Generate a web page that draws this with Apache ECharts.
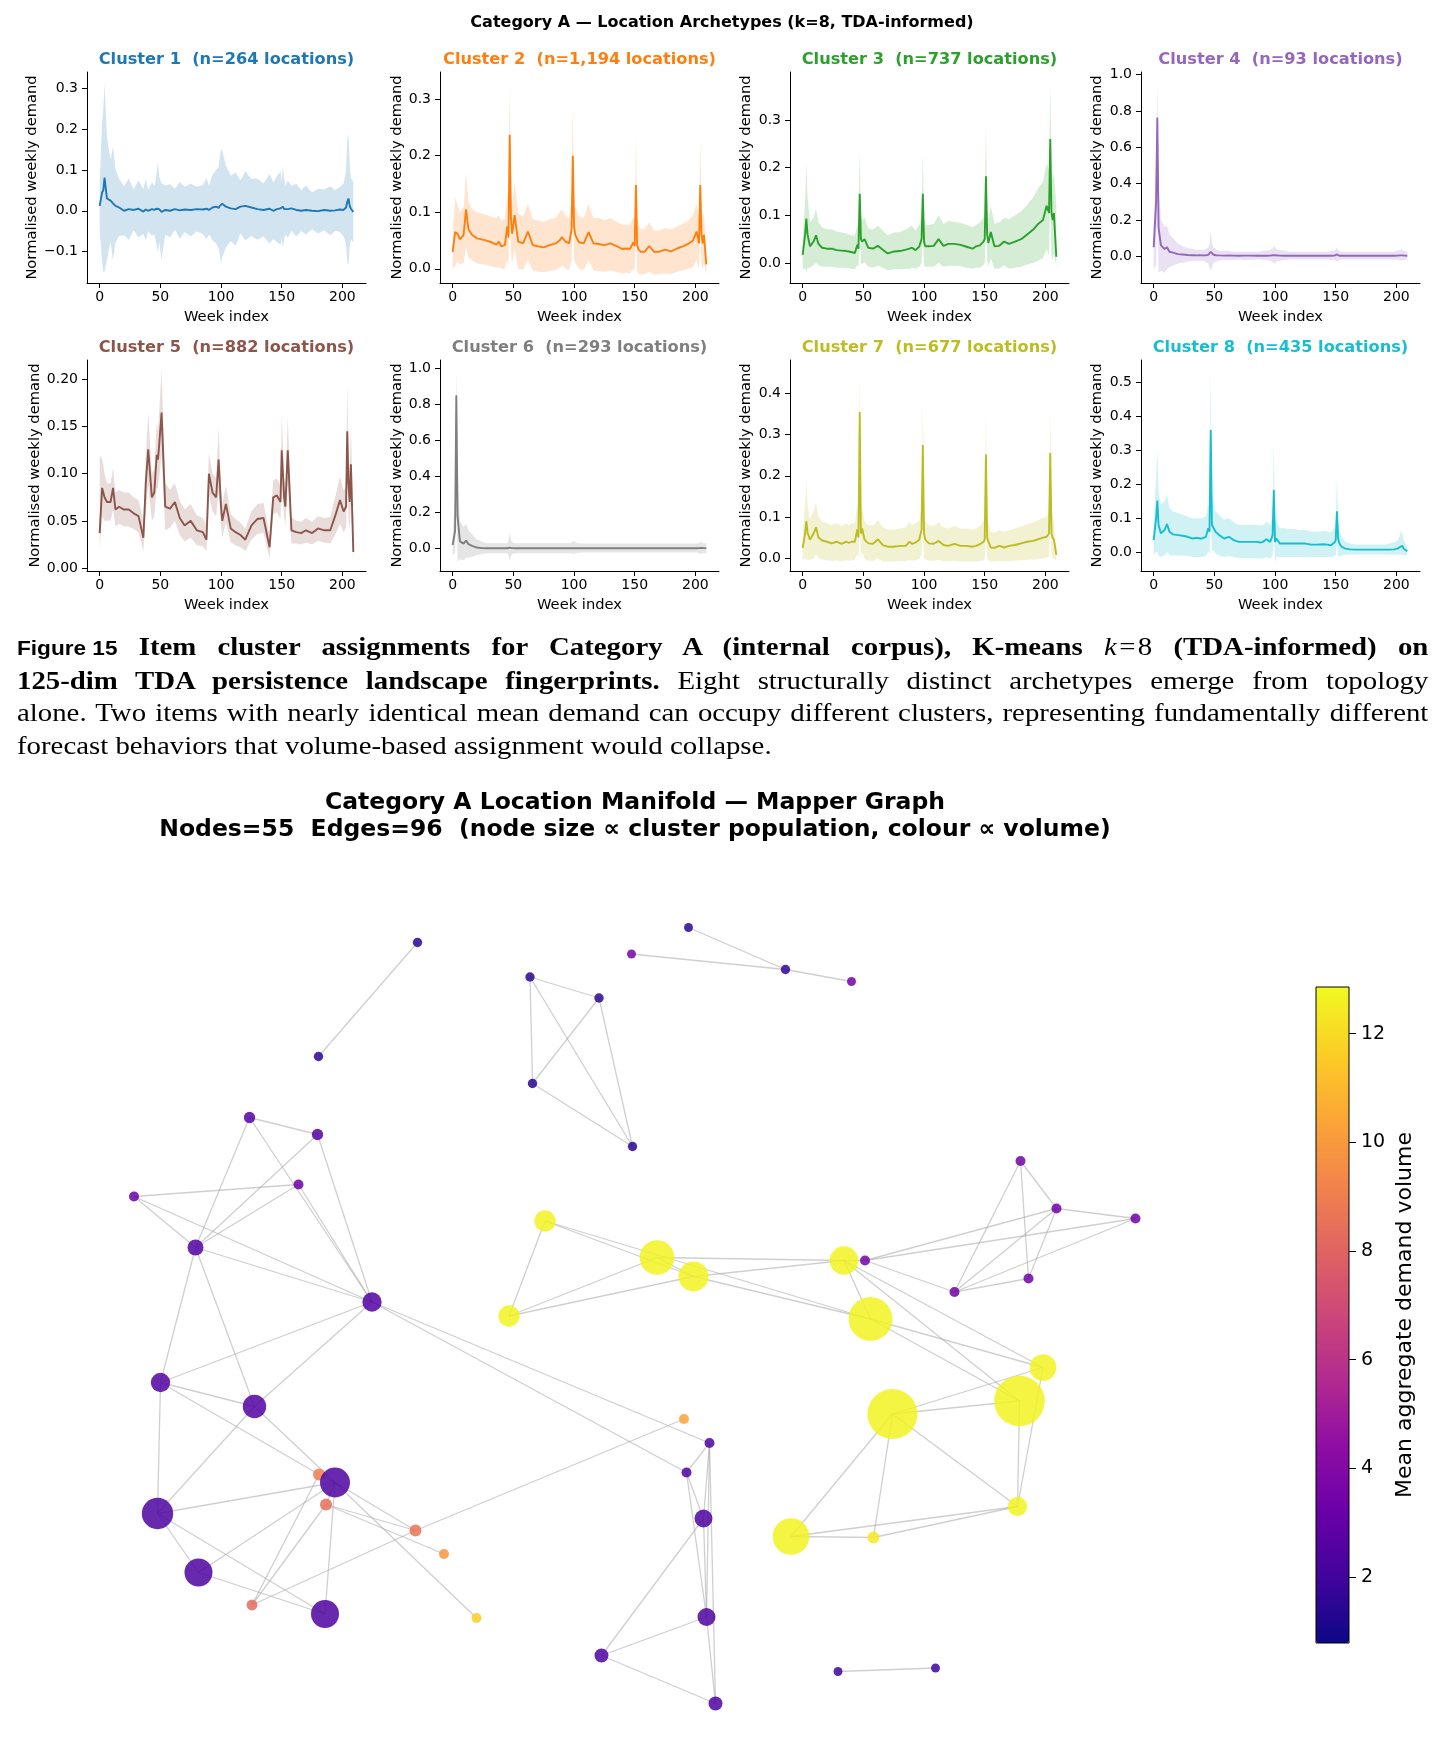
<!DOCTYPE html>
<html>
<head>
<meta charset="utf-8">
<script src="https://cdn.jsdelivr.net/npm/echarts@6/dist/echarts.min.js"></script>
<style>
  html, body { margin: 0; padding: 0; background: #fff; }
  #chart { position: absolute; left: 0; top: 0; width: 1444px; height: 1743px; }
  .caption { position: absolute; left: 17px; top: 631px; width: 1249px; transform: scaleX(1.13); transform-origin: 0 0;
    font-family: 'Liberation Serif', serif; font-size: 25.5px; line-height: 32.7px; color: #000; }
  .caption div { text-align: justify; text-align-last: justify; }
  .caption div.tight { word-spacing: -1px; }
  .caption div.last { text-align-last: left; }
  .caption .fig { display: inline-block; white-space: nowrap; font-family: 'Liberation Sans', sans-serif; font-weight: bold; font-size: 20px; }
</style>
</head>
<body>
<div id="chart"></div>
<div class="caption">
  <div><span class="fig">Figure 15</span> <b>Item cluster assignments for Category A (internal corpus), K-means</b> <i>k</i>&#8202;=&#8202;8 <b>(TDA-informed) on</b></div>
  <div><b>125-dim TDA persistence landscape fingerprints.</b> Eight structurally distinct archetypes emerge from topology</div>
  <div class="tight">alone. Two items with nearly identical mean demand can occupy different clusters, representing fundamentally different</div>
  <div class="last">forecast behaviors that volume-based assignment would collapse.</div>
</div>
<script>
// ---- weekly profiles (weeks sampled where the shape changes) ----
const WEEKS = [0,2,3,4,6,9,11,13,16,20, 24,28,32,36,38,40,43,45,46,47, 48,49,51,54,58,62,66,70,75,80,
  85,88,90,93,96,98,99,100,101,104, 108,112,116,120,125,130,135,140,143,146, 149,150,151,152,153,155,158,162,166,170,
  175,180,185,190,194,198,201,203,204,205, 206,207,209];

const C1_MEAN = [.012,.045,.05,.081,.03,.025,.018,.012,.008,0, .004,.002,.005,-.002,.003,0,.004,.002,0,.005,
  .008,.004,-.003,.002,0,.004,.001,.003,.002,.004, .003,.005,.002,.008,.01,.007,.012,.01,.017,.01,
  .006,.004,.01,.012,.008,.004,.002,.005,0,.004, .006,.003,.01,.004,.002,.004,.006,.002,0,.002,
  0,-.001,.002,0,.001,.003,.002,.008,.022,.03, .012,.005,-.003];
const C1_LOW = [-.048,-.125,-.15,-.149,-.12,-.075,-.122,-.078,-.062,-.06, -.071,-.048,-.065,-.057,-.072,-.05,-.061,-.058,-.07,-.085,
  -.102,-.076,-.12,-.058,-.065,-.046,-.069,-.052,-.063,-.051, -.057,-.07,-.058,-.072,-.08,-.093,-.108,-.13,-.113,-.09,
  -.074,-.086,-.055,-.073,-.062,-.071,-.063,-.08,-.07,-.076, -.084,-.067,-.09,-.071,-.058,-.066,-.049,-.063,-.05,-.058,
  -.045,-.056,-.048,-.06,-.049,-.052,-.063,-.082,-.128,-.13, -.088,-.07,-.078];
const C1_HIGH = [.072,.215,.25,.311,.18,.125,.158,.102,.078,.06, .079,.052,.075,.053,.078,.05,.069,.062,.07,.095,
  .118,.084,.067,.062,.065,.054,.071,.058,.067,.059, .063,.08,.062,.088,.1,.107,.132,.15,.147,.11,
  .086,.094,.075,.097,.078,.079,.067,.09,.07,.084, .096,.073,.11,.079,.062,.074,.061,.067,.05,.062,
  .045,.054,.052,.06,.051,.058,.067,.098,.172,.19, .112,.08,.072];

const C2_MEAN = [.03,.065,.064,.062,.052,.06,.105,.07,.06,.054, .052,.05,.047,.043,.048,.04,.042,.075,.055,.237,
  .09,.062,.095,.048,.045,.066,.042,.04,.038,.042, .045,.05,.056,.048,.045,.07,.2,.075,.06,.047,
  .045,.065,.045,.044,.042,.045,.04,.035,.036,.035, .047,.04,.148,.042,.035,.03,.03,.04,.03,.03,
  .034,.031,.036,.04,.044,.05,.066,.045,.148,.062, .045,.06,.008];
const C2_LOW = [0,.005,.01,.012,.008,.01,.04,.02,.015,.01, .008,.007,.004,.002,.003,0,0,.015,.005,.14,
  .03,.01,.035,0,-.002,.015,-.003,-.005,-.006,-.004, -.002,.002,.006,0,-.002,.015,.11,.02,.01,0,
  -.002,.015,-.003,-.004,-.005,-.003,-.005,-.008,-.007,-.008, 0,-.005,.07,-.005,-.008,-.01,-.01,-.005,-.01,-.01,
  -.008,-.009,-.005,-.003,0,.003,.015,0,.07,.01, -.002,.01,-.01];
const C2_HIGH = [.06,.125,.12,.115,.1,.11,.17,.12,.105,.1, .098,.095,.092,.09,.095,.085,.088,.135,.105,.33,
  .15,.11,.155,.098,.092,.115,.088,.085,.083,.088, .09,.1,.105,.095,.09,.125,.29,.13,.11,.093,
  .09,.115,.09,.09,.086,.09,.083,.078,.078,.077, .092,.085,.23,.088,.078,.07,.07,.082,.068,.068,
  .072,.07,.075,.08,.085,.095,.115,.09,.23,.11, .09,.1,.03];

const C3_MEAN = [.017,.06,.093,.06,.035,.045,.058,.04,.032,.03, .03,.027,.026,.025,.024,.023,.021,.038,.03,.145,
  .05,.045,.05,.032,.03,.036,.028,.02,.024,.025, .028,.03,.032,.027,.034,.05,.145,.045,.035,.035,
  .036,.05,.036,.04,.04,.038,.034,.03,.035,.037, .045,.05,.182,.06,.042,.065,.035,.036,.045,.04,
  .045,.05,.06,.07,.082,.09,.12,.105,.26,.105, .09,.105,.013];
const C3_LOW = [-.015,-.01,-.02,-.01,-.01,-.005,0,-.005,-.008,-.008, -.008,-.01,-.01,-.011,-.011,-.012,-.013,-.005,-.01,.07,
  0,-.002,.002,-.008,-.01,-.006,-.01,-.015,-.013,-.013, -.012,-.012,-.01,-.012,-.008,0,.06,-.005,-.008,-.008,
  -.008,0,-.008,-.006,-.006,-.007,-.01,-.012,-.01,-.01, -.005,0,.08,.005,-.008,.01,-.012,-.012,-.005,-.012,
  -.01,-.008,-.003,0,.005,.01,.03,.015,.14,.015, .005,.02,-.01];
const C3_HIGH = [.05,.13,.21,.14,.085,.095,.115,.085,.075,.07, .07,.066,.064,.062,.06,.058,.058,.08,.07,.24,
  .1,.09,.095,.072,.07,.078,.068,.058,.064,.065, .07,.075,.078,.068,.08,.1,.23,.095,.08,.08,
  .082,.1,.082,.088,.086,.084,.08,.075,.08,.085, .095,.1,.29,.115,.092,.12,.083,.085,.095,.092,
  .1,.108,.122,.138,.157,.17,.21,.195,.38,.195, .175,.19,.12];

const C4_MEAN = [.05,.3,.765,.16,.06,.04,.05,.025,.02,.012, .01,.007,.006,.005,.006,.005,.006,.008,.012,.025,
  .015,.01,.006,.005,.004,.005,.004,.003,.004,.004, .003,.003,.004,.003,.004,.006,.008,.006,.003,.004,
  .003,.003,.003,.003,.003,.003,.003,.003,.003,.003, .004,.006,.01,.005,.003,.003,.003,.003,.003,.003,
  .003,.003,.003,.003,.003,.003,.004,.005,.006,.005, .004,.004,.003];
const C4_LOW = [-.07,-.05,.35,-.09,-.08,-.09,-.07,-.06,-.05,-.04, -.035,-.03,-.025,-.025,-.025,-.025,-.03,-.04,-.06,-.08,
  -.06,-.04,-.03,-.025,-.02,-.02,-.02,-.018,-.02,-.02, -.018,-.018,-.02,-.02,-.025,-.03,-.04,-.035,-.03,-.025,
  -.02,-.018,-.018,-.018,-.018,-.018,-.018,-.018,-.018,-.02, -.022,-.025,-.028,-.025,-.02,-.018,-.018,-.018,-.018,-.018,
  -.018,-.018,-.018,-.018,-.018,-.018,-.02,-.022,-.025,-.022, -.02,-.02,-.018];
const C4_HIGH = [.18,.5,.96,.4,.2,.16,.17,.12,.1,.07, .055,.045,.04,.035,.035,.035,.04,.05,.07,.14,
  .08,.05,.04,.03,.03,.03,.025,.025,.025,.025, .025,.025,.03,.03,.035,.045,.055,.05,.04,.035,
  .03,.025,.025,.025,.025,.025,.025,.025,.025,.028, .03,.035,.05,.035,.028,.025,.025,.025,.025,.025,
  .025,.025,.025,.025,.025,.025,.03,.035,.04,.035, .03,.03,.025];

const C5_MEAN = [.037,.085,.08,.075,.07,.07,.085,.062,.065,.062, .062,.058,.055,.032,.09,.126,.075,.08,.1,.12,
  .115,.13,.165,.065,.063,.07,.053,.045,.05,.04, .038,.03,.1,.08,.075,.115,.09,.065,.05,.068,
  .042,.038,.035,.03,.045,.052,.053,.022,.075,.077, .07,.125,.1,.075,.065,.125,.04,.038,.037,.04,
  .037,.042,.04,.04,.055,.072,.06,.065,.145,.09, .07,.11,.017];
const C5_LOW = [.02,.055,.052,.05,.05,.05,.062,.044,.047,.044, .044,.041,.038,.018,.06,.088,.05,.055,.07,.085,
  .085,.095,.12,.04,.043,.05,.035,.028,.032,.024, .023,.018,.078,.06,.055,.08,.065,.045,.032,.048,
  .027,.024,.022,.018,.03,.036,.037,.01,.057,.059, .052,.087,.07,.053,.045,.09,.026,.026,.025,.027,
  .025,.029,.027,.026,.035,.047,.038,.043,.095,.055, .04,.07,.007];
const C5_HIGH = [.12,.115,.11,.1,.09,.09,.106,.08,.083,.08, .08,.075,.072,.05,.12,.164,.1,.105,.13,.155,
  .145,.165,.21,.09,.083,.09,.071,.062,.068,.056, .053,.045,.122,.1,.095,.15,.115,.085,.068,.088,
  .057,.052,.048,.042,.06,.068,.069,.035,.093,.095, .088,.163,.13,.097,.085,.16,.054,.05,.049,.053,
  .049,.055,.053,.054,.075,.097,.082,.087,.195,.125, .1,.15,.05];

const C6_MEAN = [.02,.1,.85,.18,.04,.028,.045,.025,.015,.006, .003,.002,.002,.002,.002,.002,.002,.002,.003,.006,
  .004,.003,.002,.002,.002,.002,.002,.002,.002,.002, .002,.002,.002,.002,.002,.002,.003,.003,.002,.002,
  .002,.002,.002,.002,.002,.002,.002,.002,.002,.002, .002,.002,.002,.002,.002,.002,.002,.002,.002,.002,
  .002,.002,.002,.002,.002,.002,.002,.003,.005,.004, .003,.003,.003];
const C6_LOW = [-.04,-.02,.6,-.07,-.06,-.065,-.05,-.05,-.045,-.035, -.03,-.025,-.025,-.025,-.025,-.025,-.025,-.025,-.035,-.07,
  -.04,-.03,-.025,-.025,-.025,-.025,-.025,-.025,-.025,-.025, -.025,-.025,-.025,-.025,-.025,-.025,-.03,-.03,-.025,-.022,
  -.022,-.022,-.022,-.022,-.022,-.022,-.022,-.022,-.022,-.022, -.022,-.022,-.022,-.022,-.022,-.022,-.022,-.022,-.022,-.022,
  -.022,-.022,-.022,-.022,-.022,-.022,-.022,-.025,-.03,-.028, -.025,-.025,-.025];
const C6_HIGH = [.08,.3,1.0,.43,.15,.12,.14,.1,.08,.05, .04,.03,.03,.03,.03,.03,.03,.03,.045,.09,
  .05,.035,.03,.03,.03,.03,.03,.03,.03,.03, .03,.03,.03,.03,.03,.035,.04,.045,.035,.028,
  .028,.028,.028,.028,.028,.028,.028,.028,.028,.028, .028,.028,.028,.028,.028,.028,.028,.028,.028,.028,
  .028,.028,.028,.028,.028,.028,.028,.03,.04,.035, .03,.03,.03];

const C7_MEAN = [.025,.06,.09,.062,.045,.06,.075,.05,.043,.04, .036,.04,.035,.04,.037,.04,.04,.07,.05,.355,
  .06,.072,.045,.036,.035,.046,.032,.028,.028,.03, .03,.04,.035,.038,.045,.07,.275,.06,.045,.036,
  .035,.042,.032,.03,.035,.03,.03,.028,.03,.034, .04,.045,.252,.05,.04,.026,.025,.03,.026,.03,
  .032,.036,.04,.042,.046,.05,.052,.06,.255,.06, .05,.045,.008];
const C7_LOW = [-.005,0,-.005,-.003,-.005,0,.01,0,-.003,-.005, -.007,-.005,-.008,-.005,-.007,-.005,-.005,.01,0,.09,
  0,.015,-.002,-.006,-.007,0,-.008,-.008,-.008,-.007, -.007,-.004,-.006,-.005,-.002,.01,.07,0,-.003,-.006,
  -.006,-.004,-.007,-.008,-.006,-.008,-.008,-.008,-.008,-.007, -.005,-.002,.06,0,-.005,-.008,-.008,-.007,-.008,-.007,
  -.006,-.005,-.004,-.003,-.002,0,0,.005,.09,.005, 0,-.002,-.005];
const C7_HIGH = [.06,.13,.19,.13,.095,.115,.135,.1,.09,.085, .08,.085,.078,.085,.08,.085,.085,.13,.1,.46,
  .11,.125,.09,.08,.08,.092,.075,.07,.07,.072, .075,.088,.08,.085,.09,.13,.38,.11,.09,.08,
  .078,.088,.075,.072,.078,.072,.072,.07,.072,.078, .09,.095,.35,.1,.085,.065,.062,.068,.064,.068,
  .072,.077,.083,.087,.092,.098,.1,.115,.36,.115, .1,.09,.025];

const C8_MEAN = [.035,.1,.152,.08,.055,.065,.083,.06,.052,.05, .048,.045,.04,.042,.04,.04,.045,.07,.06,.36,
  .08,.085,.06,.05,.04,.045,.035,.03,.03,.03, .03,.028,.03,.038,.03,.05,.183,.03,.04,.025,
  .025,.025,.025,.025,.025,.022,.022,.023,.022,.02, .028,.035,.12,.04,.025,.015,.01,.008,.007,.007,
  .007,.007,.007,.007,.007,.008,.01,.015,.02,.018, .01,.008,.002];
const C8_LOW = [-.01,0,0,-.01,-.015,-.01,0,-.01,-.01,-.01, -.01,-.012,-.015,-.015,-.015,-.015,-.012,0,-.005,.1,
  0,.005,-.005,-.01,-.015,-.012,-.015,-.018,-.018,-.018, -.018,-.02,-.018,-.015,-.02,-.01,.05,-.03,-.015,-.015,
  -.015,-.015,-.015,-.015,-.015,-.015,-.015,-.015,-.015,-.015, -.012,-.01,.03,-.01,-.012,-.01,-.008,-.007,-.007,-.007,
  -.007,-.007,-.007,-.007,-.008,-.008,-.008,-.008,-.008,-.008, -.01,-.01,-.008];
const C8_HIGH = [.08,.22,.305,.18,.14,.15,.17,.13,.12,.115, .11,.105,.1,.1,.1,.1,.105,.14,.12,.54,
  .15,.16,.12,.11,.095,.1,.088,.08,.08,.08, .08,.078,.08,.09,.08,.11,.325,.09,.095,.07,
  .07,.068,.068,.065,.065,.06,.06,.062,.06,.058, .07,.085,.22,.09,.065,.045,.03,.025,.022,.022,
  .022,.022,.022,.022,.025,.028,.035,.05,.065,.055, .035,.03,.015];

const CLUSTER_TITLES = ['Cluster 1  (n=264 locations)', 'Cluster 2  (n=1,194 locations)', 'Cluster 3  (n=737 locations)',
  'Cluster 4  (n=93 locations)', 'Cluster 5  (n=882 locations)', 'Cluster 6  (n=293 locations)',
  'Cluster 7  (n=677 locations)', 'Cluster 8  (n=435 locations)'];
const CLUSTER_COLORS = ['#1f77b4', '#ff7f0e', '#2ca02c', '#9467bd', '#8c564b', '#7f7f7f', '#bcbd22', '#17becf'];
const X_TICKS = [0, 50, 100, 150, 200];
const Y_TICKS = [[-0.1, 0, 0.1, 0.2, 0.3], [0, 0.1, 0.2, 0.3], [0, 0.1, 0.2, 0.3], [0, 0.2, 0.4, 0.6, 0.8, 1.0],
  [0, 0.05, 0.1, 0.15, 0.2], [0, 0.2, 0.4, 0.6, 0.8, 1.0], [0, 0.1, 0.2, 0.3, 0.4], [0, 0.1, 0.2, 0.3, 0.4, 0.5]];

// ---- mapper graph ----
const NODE_X = [-0.445,-0.643,-0.781,-0.645,-0.683,-1.012,-0.889,-0.536,-0.959,-0.771,
  -0.642,-0.610,-0.628,-0.965,-0.449,-0.392,-0.883,-0.776,-0.630,-0.327,
  0.097,-0.017,0.291,0.423,-0.220,-0.082,-0.215,-0.015,
  -0.190,0.034,0.107,0.408,0.450,-0.262,0.461,0.806,0.759,0.505,0.755,0.302,0.467,
  0.761,0.833,0.991,0.777,0.629,
  0.088,0.139,0.093,0.127,0.133,-0.077,0.151,0.396,0.591];
const NODE_Y = [0.745,0.517,0.395,0.361,0.261,0.237,0.135,0.026,-0.135,-0.183,
  -0.319,-0.335,-0.379,-0.397,-0.431,-0.478,-0.515,-0.580,-0.598,-0.606,
  0.775,0.722,0.691,0.667,0.676,0.634,0.463,0.337,
  0.188,0.115,0.077,0.109,0.109,-0.002,-0.008,-0.105,-0.172,-0.198,-0.383,-0.443,-0.445,
  0.308,0.213,0.193,0.073,0.046,
  -0.208,-0.256,-0.315,-0.407,-0.604,-0.681,-0.777,-0.713,-0.706];
const NODE_VOL = [1.5,1.5,2.6,2.6,3.2,3.2,2.5,2.5,2.5,2.5,
  9.0,2.4,8.4,2.4,8.6,9.9,2.4,8.3,2.4,11.6,
  1.5,3.6,1.6,3.6,1.5,1.5,1.5,1.5,
  12.7,12.7,12.7,12.7,3.6,12.7,12.7,12.7,12.7,12.7,12.7,12.7,12.4,
  3.4,3.4,3.4,3.4,3.4,
  10.3,2.4,2.4,2.4,2.4,2.4,2.4,2.0,2.0];
const NODE_POP = [22,22,32,32,25,25,64,94,94,137,
  36,225,36,246,36,25,196,30,196,25,
  20,20,22,20,22,22,22,22,
  114,300,225,205,25,114,480,177,640,625,94,335,36,
  25,25,25,25,25,
  25,25,25,81,81,49,49,20,20];
const EDGES = [[0,1],[2,3],[2,6],[2,7],[4,7],[3,6],[3,7],[5,4],[5,6],[5,7],
  [6,4],[6,7],[6,8],[6,9],[8,7],[9,7],[7,47],[7,48],[8,9],[8,10],
  [8,13],[9,13],[9,11],[13,11],[13,16],[13,18],[16,11],[16,18],[17,10],[17,12],
  [17,14],[18,11],[11,14],[12,14],[12,15],[11,19],[14,46],[10,11],[12,11],
  [20,22],[21,22],[22,23],
  [24,25],[24,26],[24,27],[25,26],[25,27],[26,27],
  [28,33],[28,30],[28,34],[33,29],[33,30],[29,31],[29,30],[30,31],[30,34],[31,34],
  [31,36],[31,35],[34,35],[34,36],[37,35],[37,36],[37,39],[37,40],[37,38],[36,38],
  [35,38],[39,40],[39,38],[40,38],[31,32],
  [41,42],[41,44],[41,45],[42,43],[42,32],[42,45],[42,44],[43,32],[43,45],[44,45],[32,45],
  [47,48],[47,49],[47,50],[47,52],[48,49],[48,50],[49,50],[49,51],[50,51],[51,52],[50,52],[53,54]];
const COLORBAR_TICKS = [2, 4, 6, 8, 10, 12];
const PLASMA = ['#0d0887','#41049d','#6a00a8','#8f0da4','#b12a90','#cc4778','#e16462','#f2844b','#fca636','#fcce25','#f0f921'];

const MEANS = [C1_MEAN, C2_MEAN, C3_MEAN, C4_MEAN, C5_MEAN, C6_MEAN, C7_MEAN, C8_MEAN];
const LOWS = [C1_LOW, C2_LOW, C3_LOW, C4_LOW, C5_LOW, C6_LOW, C7_LOW, C8_LOW];
const HIGHS = [C1_HIGH, C2_HIGH, C3_HIGH, C4_HIGH, C5_HIGH, C6_HIGH, C7_HIGH, C8_HIGH];

// layout of the small multiples
const FONT = 'DejaVu Sans';
const GRID_LEFTS = [87, 440, 790, 1141];
const ROW_TOPS = [72, 360];
const GRID_W = 279, GRID_H = 211;
const Y_LIMITS = [[-0.177, 0.34], [-0.025, 0.348], [-0.042, 0.4007], [-0.147, 1.015],
  [-0.0032, 0.2207], [-0.124, 1.046], [-0.031, 0.481], [-0.056, 0.567]];
const Y_NAME_GAP = [47, 35, 36, 36, 44, 35, 36, 36];

const fmt = (d) => (v) => (v < 0 ? '\u2212' : '') + Math.abs(v).toFixed(d);
const hexA = (hex, a) => {
  const n = parseInt(hex.slice(1), 16);
  return 'rgba(' + (n >> 16) + ',' + ((n >> 8) & 255) + ',' + (n & 255) + ',' + a + ')';
};

// band between the low and high envelope, drawn as one polygon
const bandRenderer = (fill) => (params, api) => {
  if (params.dataIndexInside !== 0) return null;
  const n = params.dataInsideLength;
  const pts = [];
  for (let k = 0; k < n; k++) pts.push(api.coord([api.value(0, k), api.value(2, k)]));
  for (let k = n - 1; k >= 0; k--) pts.push(api.coord([api.value(0, k), api.value(1, k)]));
  return { type: 'polygon', shape: { points: pts }, style: { fill: fill } };
};

const grids = [], xAxes = [], yAxes = [], series = [];
const titles = [{
  text: 'Category A \u2014 Location Archetypes (k=8, TDA-informed)',
  left: 722, top: 14, textAlign: 'center', padding: 0,
  textStyle: { fontFamily: FONT, fontSize: 16, fontWeight: 'bold', color: '#000', lineHeight: 18 }
}];

for (let i = 0; i < 8; i++) {
  const left = GRID_LEFTS[i % 4];
  const top = ROW_TOPS[Math.floor(i / 4)];
  grids.push({ left: left, top: top, width: GRID_W, height: GRID_H });
  titles.push({
    text: CLUSTER_TITLES[i], left: left + GRID_W / 2, top: top - 21, textAlign: 'center', padding: 0,
    textStyle: { fontFamily: FONT, fontSize: 16.2, fontWeight: 'bold', color: CLUSTER_COLORS[i], lineHeight: 18 }
  });
  xAxes.push({
    gridIndex: i, type: 'value', min: -10.45, max: 219.45,
    axisLine: { onZero: false, lineStyle: { color: '#000', width: 1 } },
    axisTick: { length: 5, lineStyle: { color: '#000' }, customValues: X_TICKS },
    axisLabel: { customValues: X_TICKS, fontFamily: FONT, fontSize: 14, color: '#000', margin: 7 },
    splitLine: { show: false },
    name: 'Week index', nameLocation: 'middle', nameGap: 27,
    nameTextStyle: { fontFamily: FONT, fontSize: 14.7, color: '#000' }
  });
  const dec = i === 4 ? 2 : 1;
  yAxes.push({
    gridIndex: i, type: 'value', min: Y_LIMITS[i][0], max: Y_LIMITS[i][1],
    axisLine: { show: true, onZero: false, lineStyle: { color: '#000', width: 1 } },
    axisTick: { show: true, length: 5, lineStyle: { color: '#000' }, customValues: Y_TICKS[i] },
    axisLabel: { customValues: Y_TICKS[i], formatter: fmt(dec), fontFamily: FONT, fontSize: 14, color: '#000', margin: 9 },
    splitLine: { show: false },
    name: 'Normalised weekly demand', nameLocation: 'middle', nameGap: Y_NAME_GAP[i],
    nameTextStyle: { fontFamily: FONT, fontSize: 14.7, color: '#000' }
  });
  const col = CLUSTER_COLORS[i];
  series.push({
    type: 'custom', xAxisIndex: i, yAxisIndex: i, silent: true, z: 2,
    data: WEEKS.map((w, k) => [w, LOWS[i][k], HIGHS[i][k]]),
    encode: { x: 0, y: [1, 2] },
    renderItem: bandRenderer(hexA(col, 0.2))
  });
  series.push({
    type: 'line', xAxisIndex: i, yAxisIndex: i,
    data: WEEKS.map((w, k) => [w, MEANS[i][k]]), symbol: 'none', silent: true,
    lineStyle: { color: col, width: 1.9 }, z: 3
  });
}

// mapper graph area
grids.push({ left: 40, top: 915, width: 1150, height: 800 });
xAxes.push({ gridIndex: 8, type: 'value', min: -1.2, max: 1.1, show: false });
yAxes.push({ gridIndex: 8, type: 'value', min: -0.8, max: 0.8, show: false });

// colour bar axis
grids.push({ left: 1316, top: 987, width: 33, height: 656, show: true, borderColor: '#000', borderWidth: 1, backgroundColor: 'transparent', z: 10 });
xAxes.push({ gridIndex: 9, type: 'value', min: 0, max: 1, show: false });
yAxes.push({
  gridIndex: 9, type: 'value', position: 'right', min: 0.785, max: 12.86,
  axisLine: { show: false, onZero: false },
  axisTick: { show: true, length: 7, lineStyle: { color: '#000' }, customValues: COLORBAR_TICKS },
  axisLabel: { customValues: COLORBAR_TICKS, fontFamily: FONT, fontSize: 19, color: '#000', margin: 12 },
  splitLine: { show: false },
  name: 'Mean aggregate demand volume', nameLocation: 'middle', nameRotate: 90, nameGap: 45,
  nameTextStyle: { fontFamily: FONT, fontSize: 22, color: '#000' }
});

titles.push({
  text: 'Category A Location Manifold \u2014 Mapper Graph\nNodes=55  Edges=96  (node size \u221d cluster population, colour \u221d volume)',
  left: 635, top: 790, textAlign: 'center', padding: 0,
  textStyle: { fontFamily: FONT, fontSize: 23.5, fontWeight: 'bold', color: '#000', lineHeight: 26.7 }
});

series.push({
  type: 'lines', coordinateSystem: 'cartesian2d', xAxisIndex: 8, yAxisIndex: 8, silent: true,
  data: EDGES.map(([a, b]) => ({ coords: [[NODE_X[a], NODE_Y[a]], [NODE_X[b], NODE_Y[b]]] })),
  lineStyle: { color: '#a8a8a8', width: 1.3, opacity: 0.55 }, z: 1
});
const nodeSeriesIndex = series.length;
series.push({
  type: 'scatter', xAxisIndex: 8, yAxisIndex: 8, silent: true,
  data: NODE_X.map((x, i) => [x, NODE_Y[i], NODE_VOL[i], NODE_POP[i]]),
  symbolSize: (v) => 2 * Math.sqrt(v[3]),
  itemStyle: { opacity: 0.85 }, z: 2
});

const chart = echarts.init(document.getElementById('chart'));
chart.setOption({
  animation: false,
  backgroundColor: '#fff',
  title: titles,
  grid: grids,
  xAxis: xAxes,
  yAxis: yAxes,
  visualMap: {
    type: 'continuous', seriesIndex: nodeSeriesIndex, dimension: 2, min: 0.785, max: 12.86,
    inRange: { color: PLASMA }, calculable: false, hoverLink: false,
    left: 1316, top: 987, itemWidth: 33, itemHeight: 656, padding: 0, text: null, showLabel: false
  },
  series: series
});
</script>
</body>
</html>
